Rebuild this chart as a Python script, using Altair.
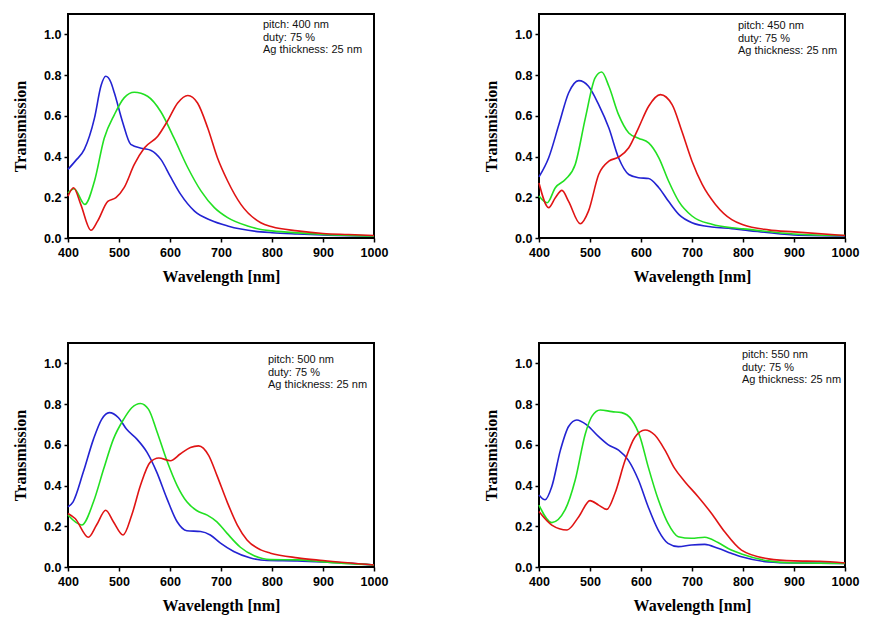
import altair as alt
import pandas as pd

# ---------------- data ----------------
PITCHES = [400, 450, 500, 550]
DUTY = 75
AG_THICKNESS = 25

# Panel 1: pitch 400 nm
p1_blue_wl = [400, 415, 432, 452, 465, 474, 484, 491, 507, 523, 546, 563, 582, 602, 621, 648, 680, 713, 778, 800, 850, 900, 1000]
p1_blue_t = [0.337, 0.38, 0.435, 0.59, 0.75, 0.794, 0.765, 0.712, 0.57, 0.46, 0.44, 0.43, 0.386, 0.296, 0.214, 0.132, 0.087, 0.059, 0.03, 0.026, 0.02, 0.015, 0.01]
p1_green_wl = [400, 412, 433, 452, 471, 491, 510, 530, 556, 582, 608, 635, 661, 687, 713, 752, 778, 800, 850, 900, 1000]
p1_green_t = [0.222, 0.242, 0.165, 0.28, 0.49, 0.606, 0.688, 0.716, 0.696, 0.62, 0.49, 0.345, 0.23, 0.149, 0.10, 0.059, 0.042, 0.035, 0.025, 0.018, 0.01]
p1_red_wl = [400, 411, 425, 445, 458, 478, 494, 510, 530, 550, 576, 595, 615, 635, 654, 674, 693, 713, 739, 778, 800, 850, 900, 950, 1000]
p1_red_t = [0.206, 0.247, 0.165, 0.038, 0.083, 0.18, 0.198, 0.247, 0.361, 0.443, 0.50, 0.574, 0.663, 0.70, 0.663, 0.54, 0.394, 0.28, 0.165, 0.075, 0.055, 0.035, 0.022, 0.017, 0.012]

# Panel 2: pitch 450 nm
p2_blue_wl = [400, 419, 439, 458, 478, 497, 517, 537, 556, 576, 595, 615, 635, 654, 674, 700, 739, 778, 800, 900, 1000]
p2_blue_t = [0.30, 0.394, 0.557, 0.712, 0.773, 0.745, 0.655, 0.54, 0.394, 0.312, 0.296, 0.292, 0.247, 0.18, 0.116, 0.075, 0.054, 0.046, 0.04, 0.015, 0.01]
p2_green_wl = [400, 416, 432, 452, 471, 491, 510, 523, 537, 556, 576, 595, 615, 635, 654, 674, 700, 739, 778, 800, 900, 1000]
p2_green_t = [0.206, 0.173, 0.247, 0.288, 0.361, 0.59, 0.786, 0.815, 0.745, 0.606, 0.516, 0.49, 0.467, 0.394, 0.28, 0.18, 0.108, 0.067, 0.05, 0.045, 0.02, 0.012]
p2_red_wl = [400, 419, 432, 445, 458, 481, 497, 517, 537, 556, 576, 595, 615, 638, 661, 680, 700, 720, 746, 778, 800, 850, 900, 1000]
p2_red_t = [0.27, 0.149, 0.198, 0.234, 0.18, 0.07, 0.132, 0.312, 0.377, 0.397, 0.443, 0.54, 0.647, 0.704, 0.655, 0.525, 0.377, 0.263, 0.165, 0.09, 0.065, 0.04, 0.03, 0.012]

# Panel 3: pitch 500 nm
p3_blue_wl = [400, 410, 430, 450, 466, 481, 499, 515, 535, 555, 574, 594, 614, 633, 660, 679, 699, 725, 758, 791, 850, 900, 1000]
p3_blue_t = [0.295, 0.32, 0.466, 0.628, 0.725, 0.758, 0.733, 0.676, 0.628, 0.563, 0.466, 0.336, 0.222, 0.178, 0.174, 0.157, 0.117, 0.076, 0.044, 0.032, 0.03, 0.025, 0.01]
p3_green_wl = [400, 427, 450, 470, 489, 509, 525, 542, 558, 574, 594, 614, 633, 653, 673, 692, 712, 738, 765, 797, 850, 900, 1000]
p3_green_t = [0.255, 0.206, 0.32, 0.482, 0.628, 0.725, 0.782, 0.803, 0.774, 0.668, 0.522, 0.40, 0.32, 0.276, 0.255, 0.222, 0.165, 0.097, 0.055, 0.036, 0.035, 0.025, 0.01]
p3_red_wl = [400, 414, 440, 456, 474, 489, 508, 525, 542, 561, 578, 601, 620, 640, 656, 676, 692, 712, 732, 751, 778, 797, 850, 900, 1000]
p3_red_t = [0.263, 0.238, 0.146, 0.206, 0.279, 0.222, 0.157, 0.255, 0.40, 0.514, 0.535, 0.522, 0.555, 0.587, 0.595, 0.547, 0.45, 0.32, 0.206, 0.133, 0.084, 0.068, 0.045, 0.032, 0.01]

# Panel 4: pitch 550 nm
p4_blue_wl = [400, 412, 425, 442, 458, 474, 494, 517, 536, 556, 575, 595, 614, 634, 653, 673, 699, 725, 751, 777, 797, 850, 900, 1000]
p4_blue_t = [0.354, 0.33, 0.394, 0.574, 0.69, 0.722, 0.697, 0.64, 0.60, 0.574, 0.525, 0.427, 0.296, 0.18, 0.116, 0.10, 0.108, 0.111, 0.092, 0.067, 0.05, 0.025, 0.02, 0.018]
p4_green_wl = [400, 425, 451, 471, 491, 504, 520, 543, 562, 582, 598, 614, 634, 653, 673, 699, 725, 751, 777, 797, 850, 900, 1000]
p4_green_t = [0.304, 0.218, 0.28, 0.427, 0.656, 0.741, 0.771, 0.763, 0.758, 0.722, 0.64, 0.493, 0.33, 0.214, 0.149, 0.141, 0.146, 0.12, 0.083, 0.064, 0.03, 0.02, 0.018]
p4_red_wl = [400, 425, 455, 478, 500, 517, 533, 549, 569, 588, 608, 627, 647, 666, 686, 712, 738, 764, 797, 850, 900, 950, 1000]
p4_red_t = [0.272, 0.206, 0.182, 0.247, 0.326, 0.304, 0.283, 0.362, 0.525, 0.637, 0.673, 0.648, 0.574, 0.484, 0.419, 0.345, 0.264, 0.173, 0.083, 0.04, 0.03, 0.028, 0.02]

X_TICKS = [400, 500, 600, 700, 800, 900, 1000]
Y_TICKS = [0.0, 0.2, 0.4, 0.6, 0.8, 1.0]
SERIES = ["blue", "green", "red"]
COLORS = ["#2323d2", "#22e022", "#e01414"]

panels = [
    [(p1_blue_wl, p1_blue_t), (p1_green_wl, p1_green_t), (p1_red_wl, p1_red_t)],
    [(p2_blue_wl, p2_blue_t), (p2_green_wl, p2_green_t), (p2_red_wl, p2_red_t)],
    [(p3_blue_wl, p3_blue_t), (p3_green_wl, p3_green_t), (p3_red_wl, p3_red_t)],
    [(p4_blue_wl, p4_blue_t), (p4_green_wl, p4_green_t), (p4_red_wl, p4_red_t)],
]
# annotation placement (px inside plot area): x, first baseline y
ANNOT_POS = [(195, 14), (199, 15), (200, 20), (203, 15)]

W, H = 306, 224


def make_panel(i):
    rows = []
    for name, (wl, t) in zip(SERIES, panels[i]):
        for a, b in zip(wl, t):
            rows.append({"wl": a, "t": b, "series": name})
    df = pd.DataFrame(rows)
    lines = alt.Chart(df).mark_line(strokeWidth=1.6, interpolate="monotone").encode(
        x=alt.X("wl:Q",
                scale=alt.Scale(domain=[400, 1000], nice=False, zero=False),
                axis=alt.Axis(values=X_TICKS, title="Wavelength [nm]", format="d")),
        y=alt.Y("t:Q",
                scale=alt.Scale(domain=[0, 1.1], nice=False),
                axis=alt.Axis(values=Y_TICKS, title="Transmission", format=".1f")),
        color=alt.Color("series:N", scale=alt.Scale(domain=SERIES, range=COLORS), legend=None),
        order=alt.Order("wl:Q"),
    )
    ann_df = pd.DataFrame({"label": [
        f"pitch: {PITCHES[i]} nm\nduty: {DUTY} %\nAg thickness: {AG_THICKNESS} nm"]})
    ax, ay = ANNOT_POS[i]
    ann = alt.Chart(ann_df).mark_text(
        align="left", baseline="alphabetic", font="Liberation Sans", fontSize=11,
        lineBreak="\n", lineHeight=12.5, color="#111111"
    ).encode(x=alt.value(ax), y=alt.value(ay), text="label:N")
    return alt.layer(lines, ann).properties(width=W, height=H)


row1 = alt.hconcat(make_panel(0), make_panel(1), spacing=93)
row2 = alt.hconcat(make_panel(2), make_panel(3), spacing=93)
chart = alt.vconcat(row1, row2, spacing=56).properties(
    padding={"left": 11, "top": 13, "right": 5, "bottom": 5},
    background="white",
).configure_view(
    stroke="black", strokeWidth=2
).configure_axis(
    domain=False, grid=False, labelFlush=False,
    ticks=True, tickSize=4, tickWidth=1.5, tickColor="black",
    labelFont="Liberation Sans", labelFontWeight="bold", labelFontSize=12.5, labelColor="black",
    labelPadding=3,
    titleFont="Liberation Serif", titleFontWeight="bold", titleFontSize=16, titleColor="black",
    titlePadding=15,
).configure_axisX(labelPadding=4, titlePadding=10)

chart.save("out.html", embed_options={"renderer": "svg", "actions": False})
